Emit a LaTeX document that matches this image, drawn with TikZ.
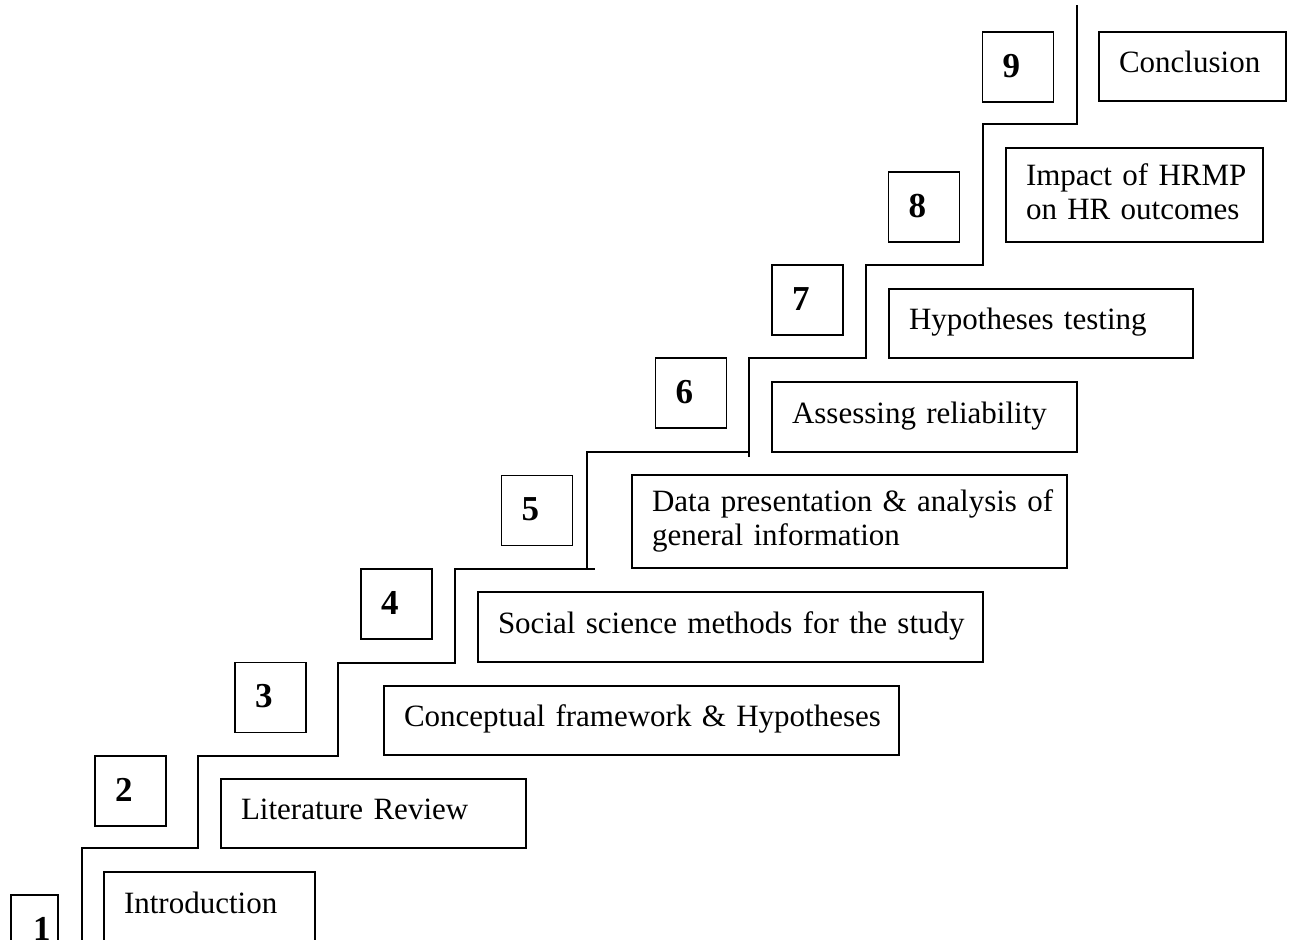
\documentclass[tikz,border=0pt]{standalone}
\usepackage{fontspec}
\setmainfont{Liberation Serif}
% title text: 15.5pt serif with slightly tighter word spacing
\newcommand\titlefont{\fontsize{15.5pt}{17pt}\selectfont\spaceskip 0.2em plus 0.05em\relax}
\newcommand\stepnumfont{\fontsize{17.5pt}{20pt}\selectfont\bfseries}
\begin{document}
\begin{tikzpicture}[x=0.5pt,y=-0.5pt,
  every node/.style={draw=black,line width=0.9pt,inner ysep=0pt,align=left},
  textbox/.style={inner xsep=10pt,text height=10pt,text depth=4pt,font=\titlefont},
  twoline/.style={textbox,text height=10pt,text depth=20pt},
  numbox/.style={inner xsep=10pt,minimum width=35.5pt,minimum height=35pt,
    text width=15.5pt,text height=10pt,text depth=0pt,font=\stepnumfont},
  stair/.style={line width=0.9pt}]
  % page
  \fill[white] (0,0) rectangle (1293,939);
  \useasboundingbox (0,0) rectangle (1293,939);
  \clip (0,0) rectangle (1293,939);

  % staircase line
  \draw[stair] (82,945) -- (82,848) -- (198,848) -- (198,756) -- (338,756)
    -- (338,663) -- (455,663) -- (455,569) -- (595,569);
  \draw[stair] (587,569) -- (587,452) -- (749,452);
  \draw[stair] (749,457) -- (749,358) -- (866,358) -- (866,265) -- (983,265)
    -- (983,124) -- (1077,124) -- (1077,5);

  % step numbers
  \node[numbox,minimum width=23.5pt,minimum height=35.5pt,inner xsep=11pt,text width=1.5pt]
    (n1) at (34.5,930.5) {\mbox{1}};
  \node[numbox] (n2) at (130.5,791)   {2};
  \node[numbox] (n3) at (270.5,697.5) {3};
  \node[numbox] (n4) at (396.5,604)   {4};
  \node[numbox] (n5) at (537,510.5)   {5};
  \node[numbox] (n6) at (691,393)     {6};
  \node[numbox] (n7) at (807.5,300)   {7};
  \node[numbox] (n8) at (924,207)     {8};
  \node[numbox] (n9) at (1018,67)     {9};

  % step titles
  \node[textbox,minimum height=35pt,text width=85.5pt] (t1) at (209.5,907) {\mbox{Introduction}};
  \node[textbox,minimum height=34.5pt,text width=132.5pt] (t2) at (373.5,813.5) {\mbox{Literature Review}};
  \node[textbox,minimum height=34.5pt,text width=237.5pt] (t3) at (641.5,720.5) {\mbox{Conceptual framework \& Hypotheses}};
  \node[textbox,minimum height=35pt,text width=232.5pt] (t4) at (730.5,627) {\mbox{Social science methods for the study}};
  \node[twoline,minimum height=46.5pt,text width=197.5pt] (t5) at (849.5,521.5)
    {\mbox{Data presentation \& analysis of}\\\mbox{general information}};
  \node[textbox,minimum height=35pt,text width=132.5pt] (t6) at (924.5,417) {\mbox{Assessing reliability}};
  \node[textbox,minimum height=34.5pt,text width=132pt] (t7) at (1041,323.5) {\mbox{Hypotheses testing}};
  \node[twoline,minimum height=47pt,text width=108.5pt] (t8) at (1134.5,195)
    {\mbox{Impact of HRMP}\\\mbox{on HR outcomes}};
  \node[textbox,minimum height=34.5pt,text width=73.5pt] (t9) at (1192.5,66.5) {\mbox{Conclusion}};
\end{tikzpicture}
\end{document}
